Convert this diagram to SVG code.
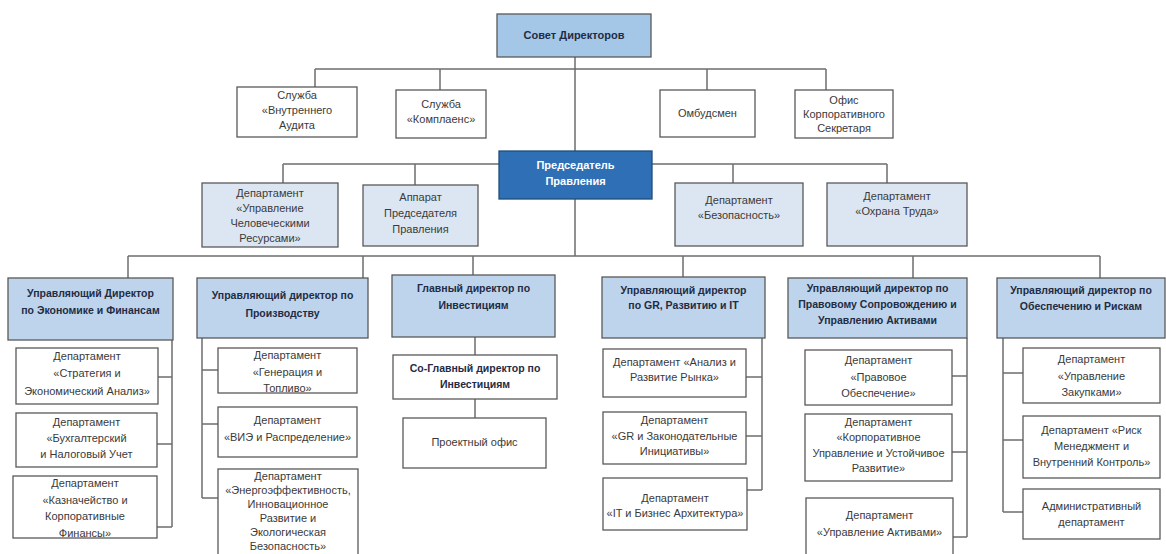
<svg xmlns="http://www.w3.org/2000/svg" width="1166" height="554" viewBox="0 0 1166 554">
<style>
rect{stroke:#595959;stroke-width:1.3}
.w{fill:#ffffff}
.l2{fill:#dce6f2}
.l3{fill:#bed4ec}
.top{fill:#a4c6e7}
.ch{fill:#2e6fb6;stroke:#1f4e79}
text{font-family:"Liberation Sans",Arial,sans-serif;font-size:11px;fill:#3a3a3a;text-anchor:middle}
.h{font-weight:bold;fill:#1f2c44;font-size:10.5px}
.hw{font-weight:bold;fill:#ffffff}
.c{stroke:#6e6e6e;stroke-width:1.5;fill:none}
</style>
<g id="connectors">
<path class="c" d="M575 57V151M315 69H826M315 69V87M440 69V90M707 69V90M826 69V90"/>
<path class="c" d="M283 164H887M283 164V183M415 164V185M733 164V183M887 164V183"/>
<path class="c" d="M575 199V256M128 256H1100M128 256V278M363 256V278M473 256V275M683 256V277M913 256V278M1100 256V278"/>
<path class="c" d="M172 340V527M158 377H172M157 444H172M157 527H172"/>
<path class="c" d="M202 338V498M202 370H218M202 424H218M202 498H218"/>
<path class="c" d="M475 337V355M475 399V418"/>
<path class="c" d="M762 338V490M746 377H762M746 436H762M747 490H762"/>
<path class="c" d="M967 338V537M952 376H967M952 452H967M953 537H967"/>
<path class="c" d="M1003 338V512M1003 373H1023M1003 440H1023M1003 512H1023"/>
</g>
<g id="sovet"><rect class="top" x="497" y="14" width="154" height="43"/><text class="h" style="font-size:11px" x="574" y="39">Совет Директоров</text></g>
<g id="audit"><rect class="w" x="237" y="87" width="120" height="50"/><text x="297" y="99">Служба</text><text x="297" y="114">«Внутреннего</text><text x="297" y="129">Аудита</text></g>
<g id="compliance"><rect class="w" x="396" y="90" width="90" height="48"/><text x="441" y="108">Служба</text><text x="441" y="123">«Комплаенс»</text></g>
<g id="ombudsman"><rect class="w" x="660" y="90" width="95" height="47"/><text x="707.5" y="117">Омбудсмен</text></g>
<g id="secretary"><rect class="w" x="795" y="90" width="98" height="48"/><text x="844" y="104">Офис</text><text x="844" y="118">Корпоративного</text><text x="844" y="132">Секретаря</text></g>
<g id="chairman"><rect class="ch" x="499" y="151" width="153" height="48"/><text class="hw" x="575.5" y="169">Председатель</text><text class="hw" x="575.5" y="185">Правления</text></g>
<g id="hr"><rect class="l2" x="202" y="183" width="136" height="64"/><text x="270" y="197">Департамент</text><text x="270" y="212">«Управление</text><text x="270" y="227">Человеческими</text><text x="270" y="242">Ресурсами»</text></g>
<g id="apparat"><rect class="l2" x="363" y="185" width="115" height="61"/><text x="420.5" y="201">Аппарат</text><text x="420.5" y="217">Председателя</text><text x="420.5" y="233">Правления</text></g>
<g id="security"><rect class="l2" x="675" y="183" width="128" height="63"/><text x="739" y="204">Департамент</text><text x="739" y="219">«Безопасность»</text></g>
<g id="labor"><rect class="l2" x="827" y="183" width="140" height="63"/><text x="897" y="200">Департамент</text><text x="897" y="215">«Охрана Труда»</text></g>
<g id="dir-econ"><rect class="l3" x="8" y="278" width="165" height="62"/><text class="h" x="90.5" y="297">Управляющий Директор</text><text class="h" x="90.5" y="314">по Экономике и Финансам</text></g>
<g id="dir-prod"><rect class="l3" x="197" y="278" width="171" height="60"/><text class="h" x="282.5" y="299">Управляющий директор по</text><text class="h" x="282.5" y="317">Производству</text></g>
<g id="dir-inv"><rect class="l3" x="392" y="275" width="163" height="62"/><text class="h" x="473.5" y="292">Главный директор по</text><text class="h" x="473.5" y="309">Инвестициям</text></g>
<g id="dir-gr"><rect class="l3" x="602" y="277" width="163" height="61"/><text class="h" x="683.5" y="294">Управляющий директор</text><text class="h" x="683.5" y="309">по GR, Развитию и IT</text></g>
<g id="dir-legal"><rect class="l3" x="788" y="278" width="179" height="60"/><text class="h" x="877.5" y="292">Управляющий директор по</text><text class="h" x="877.5" y="308">Правовому Сопровождению и</text><text class="h" x="877.5" y="324">Управлению Активами</text></g>
<g id="dir-risk"><rect class="l3" x="997" y="278" width="168" height="60"/><text class="h" x="1081" y="294">Управляющий директор по</text><text class="h" x="1081" y="310">Обеспечению и Рискам</text></g>
<g id="strategy"><rect class="w" x="16" y="348" width="142" height="56"/><text x="87" y="360">Департамент</text><text x="87" y="377">«Стратегия и</text><text x="87" y="395">Экономический Анализ»</text></g>
<g id="accounting"><rect class="w" x="16" y="413" width="141" height="54"/><text x="86.5" y="426">Департамент</text><text x="86.5" y="442">«Бухгалтерский</text><text x="86.5" y="458">и Налоговый Учет</text></g>
<g id="treasury"><rect class="w" x="13" y="476" width="144" height="62"/><text x="85" y="487">Департамент</text><text x="85" y="504">«Казначейство и</text><text x="85" y="520">Корпоративные</text><text x="85" y="537">Финансы»</text></g>
<g id="generation"><rect class="w" x="218" y="348" width="139" height="45"/><text x="287.5" y="359">Департамент</text><text x="287.5" y="376">«Генерация и</text><text x="287.5" y="392">Топливо»</text></g>
<g id="res"><rect class="w" x="218" y="407" width="139" height="50"/><text x="287.5" y="424">Департамент</text><text x="287.5" y="441">«ВИЭ и Распределение»</text></g>
<g id="energy"><rect class="w" x="218" y="469" width="140" height="100"/><text x="288" y="480">Департамент</text><text x="288" y="494">«Энергоэффективность,</text><text x="288" y="508">Инновационное</text><text x="288" y="522">Развитие и</text><text x="288" y="536">Экологическая</text><text x="288" y="550">Безопасность»</text></g>
<g id="co-inv"><rect class="w" x="393" y="355" width="164" height="44"/><text class="h" x="475" y="372">Со-Главный директор по</text><text class="h" x="475" y="388">Инвестициям</text></g>
<g id="project"><rect class="w" x="403" y="418" width="143" height="50"/><text x="474.5" y="446">Проектный офис</text></g>
<g id="market"><rect class="w" x="603" y="349" width="143" height="48"/><text x="674.5" y="366">Департамент «Анализ и</text><text x="674.5" y="381">Развитие Рынка»</text></g>
<g id="gr"><rect class="w" x="603" y="412" width="143" height="52"/><text x="674.5" y="424">Департамент</text><text x="674.5" y="440">«GR и Законодательные</text><text x="674.5" y="455">Инициативы»</text></g>
<g id="it"><rect class="w" x="603" y="478" width="144" height="52"/><text x="675" y="502">Департамент</text><text x="675" y="517">«IT и Бизнес Архитектура»</text></g>
<g id="legal"><rect class="w" x="805" y="350" width="147" height="55"/><text x="878.5" y="364">Департамент</text><text x="878.5" y="381">«Правовое</text><text x="878.5" y="397">Обеспечение»</text></g>
<g id="governance"><rect class="w" x="805" y="414" width="147" height="67"/><text x="878.5" y="426">Департамент</text><text x="878.5" y="441">«Корпоративное</text><text x="878.5" y="457">Управление и Устойчивое</text><text x="878.5" y="472">Развитие»</text></g>
<g id="assets"><rect class="w" x="806" y="498" width="147" height="70"/><text x="879.5" y="519">Департамент</text><text x="879.5" y="536">«Управление Активами»</text></g>
<g id="procurement"><rect class="w" x="1023" y="348" width="137" height="55"/><text x="1091.5" y="363">Департамент</text><text x="1091.5" y="380">«Управление</text><text x="1091.5" y="396">Закупками»</text></g>
<g id="riskmgmt"><rect class="w" x="1023" y="416" width="137" height="62"/><text x="1091.5" y="434">Департамент «Риск</text><text x="1091.5" y="450">Менеджмент и</text><text x="1091.5" y="466">Внутренний Контроль»</text></g>
<g id="admin"><rect class="w" x="1023" y="489" width="137" height="50"/><text x="1091.5" y="510">Административный</text><text x="1091.5" y="526">департамент</text></g>
</svg>
